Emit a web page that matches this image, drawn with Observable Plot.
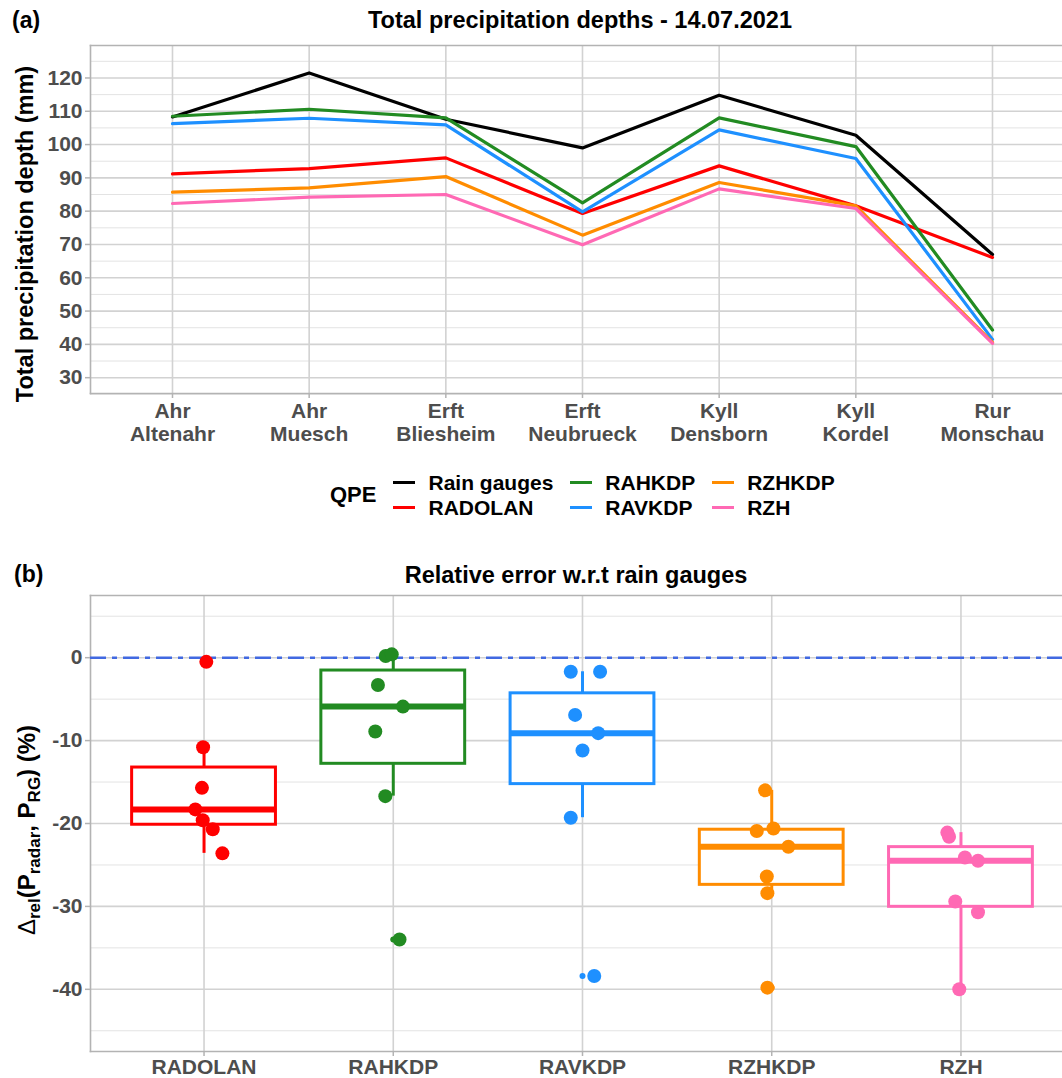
<!DOCTYPE html>
<html>
<head>
<meta charset="utf-8">
<script src="https://cdn.jsdelivr.net/npm/d3@7"></script>
<script src="https://cdn.jsdelivr.net/npm/@observablehq/plot@0.6"></script>
<style>
  html, body { margin: 0; padding: 0; background: #fff; overflow: hidden; }
  #wrap { position: relative; width: 1062px; height: 1078px; font-family: "Liberation Sans", Arial, sans-serif; color: #000; }
  .abs { position: absolute; white-space: nowrap; line-height: 1; }
  .tag { font-weight: bold; font-size: 23px; }
  .title { font-weight: bold; font-size: 23.5px; transform: translateX(-50%); }
  .ylab { font-weight: bold; font-size: 23.5px; transform: translate(-50%, -50%) rotate(-90deg); }
  .ylab2 { font-size: 24px; }
  .ylab sub { font-size: 17px; vertical-align: -5px; line-height: 1; }
  .ylab .d { font-weight: normal; }
  #legend { position: absolute; left: 330px; top: 470px; display: flex; align-items: center; font-weight: bold; font-size: 21px; }
  #legend .lt { margin-right: 17px; font-size: 22px; }
  #legend .col { display: flex; flex-direction: column; margin-right: 17px; }
  #legend .row { display: flex; align-items: center; height: 25px; }
  #legend .key { width: 22px; height: 3px; margin-right: 13px; }
  .plot { position: absolute; left: 0; }
</style>
</head>
<body>
<div id="wrap">
  <div class="abs tag" style="left:12px; top:9px;">(a)</div>
  <div class="abs title" style="left:580px; top:9px;">Total precipitation depths - 14.07.2021</div>
  <div class="abs ylab" style="left:26px; top:234px;">Total precipitation depth (mm)</div>
  <div id="plotA" class="plot" style="top:0px;"></div>
  <div id="legend"></div>
  <div class="abs tag" style="left:14px; top:563px;">(b)</div>
  <div class="abs title" style="left:576px; top:564px;">Relative error w.r.t rain gauges</div>
  <div class="abs ylab ylab2" style="left:29px; top:830px;"><span class="d">&Delta;</span><sub>rel</sub>(P<sub>radar</sub>, P<sub>RG</sub>) (%)</div>
  <div id="plotB" class="plot" style="top:540px;"></div>
</div>
<script>
// ---------- data: panel (a) ----------
const sites = ["Ahr\nAltenahr", "Ahr\nMuesch", "Erft\nBliesheim", "Erft\nNeubrueck", "Kyll\nDensborn", "Kyll\nKordel", "Rur\nMonschau"];
const qpeNames = ["Rain gauges", "RADOLAN", "RAHKDP", "RAVKDP", "RZHKDP", "RZH"];
const qpeColors = ["#000000", "#FF0000", "#228B22", "#1E90FF", "#FF8C00", "#FF69B4"];
const rainGauges = [108.3, 121.5, 107.6, 99.0, 114.8, 102.8, 67.0];
const radolan    = [91.2, 92.8, 96.0, 79.3, 93.6, 81.6, 66.1];
const rahkdp     = [108.5, 110.6, 108.0, 82.5, 108.0, 99.4, 44.3];
const ravkdp     = [106.3, 107.9, 105.9, 79.8, 104.4, 95.8, 41.5];
const rzhkdp     = [85.7, 87.0, 90.4, 72.8, 88.6, 81.6, 40.6];
const rzh        = [82.3, 84.2, 85.0, 69.9, 86.7, 80.8, 40.3];
const yTicksA = [30, 40, 50, 60, 70, 80, 90, 100, 110, 120];
const yMinorA = [25, 35, 45, 55, 65, 75, 85, 95, 105, 115, 125];

// ---------- data: panel (b) ----------
const radarNames = ["RADOLAN", "RAHKDP", "RAVKDP", "RZHKDP", "RZH"];
// relative errors (%) per site (Altenahr, Muesch, Bliesheim, Neubrueck, Densborn, Kordel, Monschau)
const errRadolan = [-15.7, -23.6, -10.8, -19.6, -18.3, -20.7, -0.5];
const errRahkdp  = [0.2, -8.9, 0.4, -16.7, -5.9, -3.3, -34.0];
const errRavkdp  = [-1.7, -11.2, -1.7, -19.3, -9.1, -6.9, -38.4];
const errRzhkdp  = [-20.9, -28.4, -16.0, -26.4, -22.8, -20.6, -39.8];
const errRzh     = [-24.1, -30.7, -21.1, -29.4, -24.5, -21.6, -40.0];
// horizontal jitter of the points (fraction of category spacing)
const jitRadolan = [-0.011, 0.097, -0.005, -0.007, -0.046, 0.046, 0.012];
const jitRahkdp  = [-0.040, -0.095, -0.008, -0.042, 0.051, -0.081, 0.033];
const jitRavkdp  = [-0.062, 0.000, 0.093, -0.062, 0.083, -0.039, 0.062];
const jitRzhkdp  = [-0.079, -0.023, -0.035, -0.026, 0.088, 0.009, -0.023];
const jitRzh     = [0.021, 0.090, -0.072, -0.030, 0.090, -0.063, -0.009];
const yTicksB = [0, -10, -20, -30, -40];
const yMinorB = [5, -5, -15, -25, -35, -45];

// ---------- build tables ----------
const seriesA = [rainGauges, radolan, rahkdp, ravkdp, rzhkdp, rzh];
const linesData = [];
seriesA.forEach((vals, s) => vals.forEach((v, i) => linesData.push({qpe: qpeNames[s], idx: i + 1, value: v})));

const errSeries = [errRadolan, errRahkdp, errRavkdp, errRzhkdp, errRzh];
const jitSeries = [jitRadolan, jitRahkdp, jitRavkdp, jitRzhkdp, jitRzh];
const points = [];
errSeries.forEach((vals, s) => vals.forEach((v, i) => points.push({qpe: radarNames[s], idx: s + 1, err: v, jit: jitSeries[s][i]})));

const stats = [];
const outliers = [];
errSeries.forEach((vals, s) => {
  const sorted = vals.slice().sort(d3.ascending);
  const q1 = d3.quantile(sorted, 0.25), med = d3.quantile(sorted, 0.5), q3 = d3.quantile(sorted, 0.75);
  const iqr = q3 - q1, lf = q1 - 1.5 * iqr, uf = q3 + 1.5 * iqr;
  const inside = sorted.filter(v => v >= lf && v <= uf);
  stats.push({qpe: radarNames[s], idx: s + 1, q1, med, q3, lo: d3.min(inside), hi: d3.max(inside)});
  sorted.filter(v => v < lf || v > uf).forEach(v => outliers.push({qpe: radarNames[s], idx: s + 1, err: v}));
});

const font = '"Liberation Sans", Arial, sans-serif';
const gridMajor = {stroke: "#d2d2d2", strokeOpacity: 1, strokeWidth: 1.6};
const gridMinor = {stroke: "#e3e3e3", strokeOpacity: 1, strokeWidth: 1.0};
const frameStyle = {stroke: "#b3b3b3", strokeWidth: 1.6};
const colorScale = {domain: qpeNames, range: qpeColors};
const tickStyle = {tickSize: 5, tickPadding: 3, stroke: "#b3b3b3", fill: "#4d4d4d", strokeWidth: 1.5, label: null};

// ---------- panel (a) ----------
const plotA = Plot.plot({
  width: 1062, height: 455,
  marginLeft: 90, marginRight: 0, marginTop: 45, marginBottom: 62,
  style: {fontFamily: font, fontSize: "21px", fontWeight: "bold", background: "transparent", overflow: "visible"},
  x: {type: "linear", domain: [0.4, 7.6], range: [90, 1074]},
  y: {domain: [25.25, 129.75]},
  color: colorScale,
  marks: [
    Plot.gridY(yMinorA, gridMinor),
    Plot.gridY(yTicksA, gridMajor),
    Plot.gridX(d3.range(1, 8), gridMajor),
    Plot.frame({anchor: "left", ...frameStyle}),
    Plot.frame({anchor: "top", ...frameStyle}),
    Plot.frame({anchor: "bottom", ...frameStyle}),
    Plot.axisY(yTicksA, {...tickStyle, tickFormat: d => String(d)}),
    Plot.axisX(d3.range(1, 8), {...tickStyle, lineHeight: 1.1, tickFormat: i => sites[i - 1]}),
    Plot.line(linesData, {x: "idx", y: "value", z: "qpe", stroke: "qpe", strokeWidth: 3.2})
  ]
});
document.getElementById("plotA").appendChild(plotA);

// ---------- legend ----------
const legend = document.getElementById("legend");
const lt = document.createElement("div"); lt.className = "lt"; lt.textContent = "QPE"; legend.appendChild(lt);
for (let c = 0; c < 3; c++) {
  const col = document.createElement("div"); col.className = "col";
  for (let r = 0; r < 2; r++) {
    const k = c * 2 + r;
    const row = document.createElement("div"); row.className = "row";
    const key = document.createElement("div"); key.className = "key"; key.style.background = qpeColors[k];
    const lab = document.createElement("span"); lab.textContent = qpeNames[k];
    row.appendChild(key); row.appendChild(lab); col.appendChild(row);
  }
  legend.appendChild(col);
}

// ---------- panel (b) ----------
const halfBox = 0.38;
const plotB = Plot.plot({
  width: 1062, height: 538,
  marginLeft: 90, marginRight: 0, marginTop: 55, marginBottom: 27,
  style: {fontFamily: font, fontSize: "21px", fontWeight: "bold", background: "transparent", overflow: "visible"},
  x: {type: "linear", domain: [0.4, 5.6], range: [90, 1074]},
  y: {domain: [-47.5, 7.5]},
  color: colorScale,
  marks: [
    Plot.gridY(yMinorB, gridMinor),
    Plot.gridY(yTicksB, gridMajor),
    Plot.gridX(d3.range(1, 6), gridMajor),
    Plot.frame({anchor: "left", ...frameStyle}),
    Plot.frame({anchor: "top", ...frameStyle}),
    Plot.frame({anchor: "bottom", ...frameStyle}),
    Plot.axisY(yTicksB, {...tickStyle, tickFormat: d => String(d)}),
    Plot.axisX(d3.range(1, 6), {...tickStyle, tickFormat: i => radarNames[i - 1]}),
    Plot.ruleY([0], {stroke: "#4169E1", strokeWidth: 2.5, strokeDasharray: "16,6,5,6"}),
    Plot.ruleX(stats, {x: "idx", y1: "lo", y2: "hi", stroke: "qpe", strokeWidth: 3}),
    Plot.rect(stats, {x1: d => d.idx - halfBox, x2: d => d.idx + halfBox, y1: "q1", y2: "q3", fill: "white", stroke: "qpe", strokeWidth: 3}),
    Plot.ruleY(stats, {y: "med", x1: d => d.idx - halfBox, x2: d => d.idx + halfBox, stroke: "qpe", strokeWidth: 6}),
    Plot.dot(outliers, {x: "idx", y: "err", fill: "qpe", r: 3}),
    Plot.dot(points, {x: d => d.idx + d.jit, y: "err", fill: "qpe", r: 7})
  ]
});
document.getElementById("plotB").appendChild(plotB);
</script>
</body>
</html>
